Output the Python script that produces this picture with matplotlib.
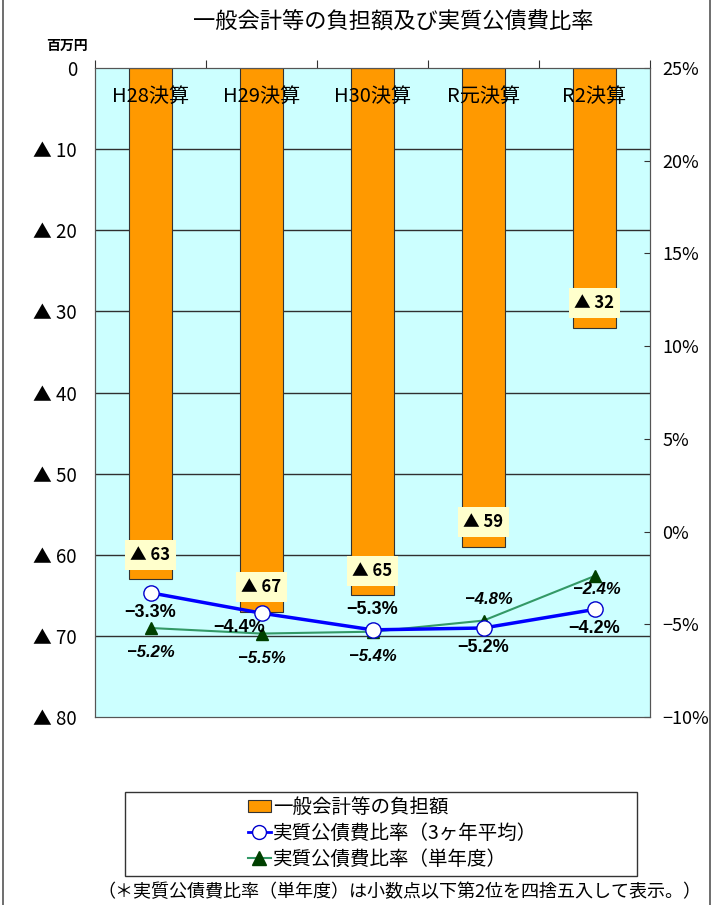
import numpy as np
import matplotlib
matplotlib.use('Agg')
import matplotlib.pyplot as plt
from matplotlib.lines import Line2D

plt.rcParams['font.family'] = ['Noto Sans CJK JP', 'DejaVu Sans']

# データ
categories = ['H28決算', 'H29決算', 'H30決算', 'R元決算', 'R2決算']
burden = [63, 67, 65, 59, 32]              # 一般会計等の負担額（百万円、▲）
ratio_3yr = [-3.3, -4.4, -5.3, -5.2, -4.2]  # 実質公債費比率（3ヶ年平均）
ratio_1yr = [-5.2, -5.5, -5.4, -4.8, -2.4]  # 実質公債費比率（単年度）

left_ticks = [0, 10, 20, 30, 40, 50, 60, 70, 80]
left_labels = ['0'] + ['▲ %d' % v for v in left_ticks[1:]]
right_ticks = [25, 20, 15, 10, 5, 0, -5, -10]
right_labels = ['%d%%' % v if v >= 0 else '\u2212%d%%' % -v for v in right_ticks]

# ラベルのずらし量（ポイント）
off_3yr = [(0, -14), (-16, -10), (0, 15), (0, -14), (0, -14)]
off_1yr = [(0, -18), (0, -18), (0, -18), (4, 15), (2, -10)]

num_font = ['Liberation Sans', 'DejaVu Sans']

fig = plt.figure(figsize=(7.22, 9.05), dpi=100)
ax = fig.add_axes([95/722, 1-717/905, 555/722, 649/905])
x = np.arange(len(categories))

ax.set_facecolor('#CCFFFF')
ax.set_xlim(-0.5, len(categories) - 0.5)
ax.set_ylim(80, 0)
for g in left_ticks[1:-1]:
    ax.axhline(g, color='#303030', lw=1.0, zorder=1)
ax.bar(x, burden, width=0.39, color='#FF9900', edgecolor='#333333', lw=0.8, zorder=2)

ax.set_yticks(left_ticks)
ax.set_yticklabels(left_labels, fontsize=13.5)
ax.tick_params(axis='y', length=0, pad=13)
ax.xaxis.tick_top()
ax.set_xticks(np.arange(len(categories) + 1) - 0.5)
ax.set_xticklabels([])
ax.tick_params(axis='x', direction='out', length=6, color='#333333')
for s in ax.spines.values():
    s.set_color('#555555')

for xi, c in zip(x, categories):
    ax.text(xi, 3.5, c, ha='center', va='center', fontsize=14.5, zorder=3)

for xi, v in zip(x, burden):
    ax.text(xi, v - 3, '▲ %d' % v, ha='center', va='center', fontsize=12,
            fontweight='bold', zorder=4,
            bbox=dict(boxstyle='square,pad=0.35', fc='#FFFFCC', ec='none'))

fig.text(88/722, 1-46/905, '百万円', ha='right', va='center', fontsize=10,
         fontweight='bold')

ax2 = ax.twinx()
ax2.set_ylim(-10, 25)
ax2.set_yticks(right_ticks)
ax2.set_yticklabels(right_labels, fontsize=13)
ax2.tick_params(axis='y', direction='in', length=4, pad=9, color='#333333')
for s in ax2.spines.values():
    s.set_color('#555555')

ax2.plot(x, ratio_1yr, color='#339966', lw=1.5, marker='^', markersize=9,
         markerfacecolor='#004000', markeredgecolor='#004000', zorder=3)
ax2.plot(x, ratio_3yr, color='#0000FF', lw=2.5, marker='o', markersize=11,
         markerfacecolor='white', markeredgecolor='#0000CC', zorder=4)

for xi, v, o in zip(x, ratio_3yr, off_3yr):
    ax2.annotate('\u2212%.1f%%' % -v, (xi, v), xytext=o, textcoords='offset points',
                 ha='center', va='center', fontsize=13, fontweight='bold',
                 family=num_font)
for xi, v, o in zip(x, ratio_1yr, off_1yr):
    ax2.annotate('\u2212%.1f%%' % -v, (xi, v), xytext=o, textcoords='offset points',
                 ha='center', va='center', fontsize=12, fontweight='bold',
                 fontstyle='italic', family=num_font)

fig.text(393/722, 1-22/905, '一般会計等の負担額及び実質公債費比率', ha='center',
         va='center', fontsize=16)

# 凡例の枠
fig.add_artist(plt.Rectangle((125/722, 1-876/905), 512/722, 84/905,
                             transform=fig.transFigure, fill=False,
                             ec='#333333', lw=1.0))
handles = [
    plt.Rectangle((0, 0), 1, 1, fc='#FF9900', ec='#333333', lw=0.8),
    Line2D([], [], color='#0000FF', lw=2, marker='o', markersize=10,
           markerfacecolor='white', markeredgecolor='#0000CC'),
    Line2D([], [], color='#339966', lw=1.5, marker='^', markersize=10,
           markerfacecolor='#004000', markeredgecolor='#004000'),
]
labels = ['一般会計等の負担額', '実質公債費比率（3ヶ年平均）', '実質公債費比率（単年度）']
leg = fig.legend(handles, labels, loc='center left', bbox_to_anchor=(238/722, 1-833/905),
                 fontsize=14, frameon=False, handlelength=1.2, handleheight=0.6,
                 handletextpad=0.1, labelspacing=0.25, borderpad=0.0)

fig.text(399/722, 1-892/905, '（＊実質公債費比率（単年度）は小数点以下第2位を四捨五入して表示。）',
         ha='center', va='center', fontsize=13)

fig.add_artist(Line2D([3/722, 3/722], [0, 1], color='#555555', lw=1.2))
fig.add_artist(Line2D([710/722, 710/722], [0, 1], color='#555555', lw=1.2))

fig.savefig('out.png', dpi=100)
